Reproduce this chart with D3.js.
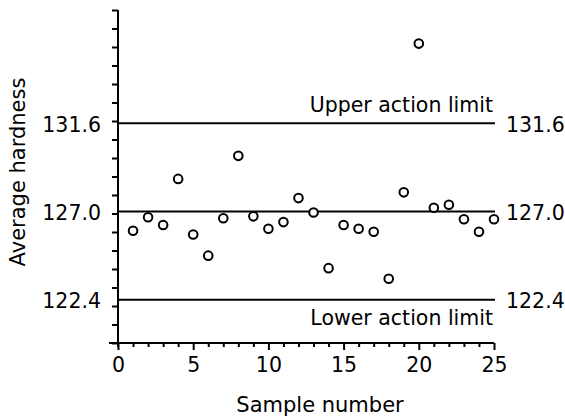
<!DOCTYPE html>
<html>
<head>
<meta charset="utf-8">
<script src="https://cdn.jsdelivr.net/npm/d3@7"></script>
<style>
  html, body { margin: 0; padding: 0; background: #fff; }
  svg text { font-family: "DejaVu Sans", sans-serif; fill: #000; }
</style>
</head>
<body>
<div id="chart"></div>
<script>
// sample number (x) and average hardness (y)
const sampleNo = [1, 2, 3, 4, 5, 6, 7, 8, 9, 10, 11, 12, 13, 14, 15, 16, 17, 18, 19, 20, 21, 22, 23, 24, 25];
const hardness = [126.0, 126.7, 126.3, 128.7, 125.8, 124.7, 126.65, 129.9, 126.75, 126.1, 126.45, 127.7, 126.95, 124.05,
                  126.3, 126.1, 125.95, 123.5, 128.0, 135.75, 127.2, 127.35, 126.6, 125.95, 126.6];
// control lines
const limitValues = [122.4, 127.0, 131.6];
const limitLabels = ["122.4", "127.0", "131.6"];
const limitNames = ["Lower action limit", "", "Upper action limit"];
// x axis ticks
const xMajorTicks = [0, 5, 10, 15, 20, 25];
const xMinorTicks = [1, 2, 3, 4, 6, 7, 8, 9, 11, 12, 13, 14, 16, 17, 18, 19, 21, 22, 23, 24];

const width = 565, height = 417;
const margin = { top: 10, right: 71, bottom: 74, left: 118 };
const plotW = width - margin.left - margin.right;
const plotH = height - margin.top - margin.bottom;
const fontSize = 20.5;

const svg = d3.select('#chart').append('svg')
  .attr('width', width).attr('height', height);

const g = svg.append('g').attr('transform', `translate(${margin.left},${margin.top})`);

const x = d3.scaleLinear().domain([0, 25]).range([0, plotW]);
const y = d3.scaleLinear().domain([120.15, 137.5]).range([plotH, 0]);

// y axis: plain tick marks, 18 even steps along the axis
const yTicks = d3.range(19).map(i => y.invert(plotH - i * plotH / 18));
const gy = g.append('g')
  .call(d3.axisLeft(y).tickValues(yTicks).tickSize(6).tickFormat(''));
gy.select('.domain').attr('stroke-width', 2).attr('d', `M0,${plotH + 4}V0`);
gy.selectAll('.tick line').attr('stroke-width', 2);

// x axis with longer major ticks
const gxMinor = g.append('g').attr('transform', `translate(0,${plotH})`)
  .call(d3.axisBottom(x).tickValues(xMinorTicks).tickSize(4).tickFormat(''));
gxMinor.select('.domain').remove();
gxMinor.selectAll('.tick line').attr('stroke-width', 2);

const gx = g.append('g').attr('transform', `translate(0,${plotH})`)
  .call(d3.axisBottom(x).tickValues(xMajorTicks).tickSize(7).tickPadding(7));
gx.select('.domain').attr('stroke-width', 2).attr('d', `M-9,0H${plotW}`);
gx.selectAll('.tick line').attr('stroke-width', 2);
gx.selectAll('.tick text')
  .style('font-size', fontSize + 'px')
  .style('font-family', '"DejaVu Sans", sans-serif');

// control lines and their labels on both sides
const limits = g.selectAll('.limit').data(limitValues).enter().append('g').attr('class', 'limit');
limits.append('line')
  .attr('x1', 0).attr('x2', x(25) + 1)
  .attr('y1', d => y(d)).attr('y2', d => y(d))
  .attr('stroke', '#000').attr('stroke-width', 2);
limits.append('text')
  .attr('x', -17).attr('y', d => y(d) + 1).attr('dy', '0.36em')
  .attr('text-anchor', 'end').style('font-size', fontSize + 'px')
  .text((d, i) => limitLabels[i]);
limits.append('text')
  .attr('x', x(25) + 12).attr('y', d => y(d) + 1).attr('dy', '0.36em')
  .style('font-size', fontSize + 'px')
  .text((d, i) => limitLabels[i]);
limits.append('text')
  .attr('x', x(25) - 1)
  .attr('y', (d, i) => i === 0 ? y(d) + 25 : y(d) - 11)
  .attr('text-anchor', 'end').style('font-size', fontSize + 'px')
  .text((d, i) => limitNames[i]);

// the sample means
g.selectAll('circle').data(hardness).enter().append('circle')
  .attr('cx', (d, i) => x(sampleNo[i]))
  .attr('cy', d => y(d))
  .attr('r', 4.3)
  .attr('fill', '#fff').attr('stroke', '#000').attr('stroke-width', 2);

// axis titles
svg.append('text')
  .attr('transform', 'translate(25,172) rotate(-90)')
  .attr('text-anchor', 'middle').style('font-size', '21px')
  .text('Average hardness');
svg.append('text')
  .attr('x', 320).attr('y', 412)
  .attr('text-anchor', 'middle').style('font-size', '21px')
  .text('Sample number');
</script>
</body>
</html>
